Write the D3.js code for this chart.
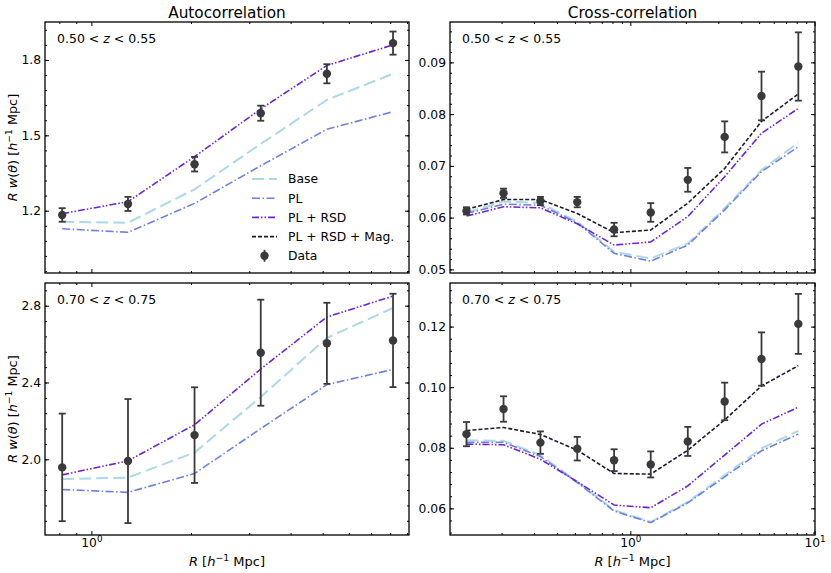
<!DOCTYPE html>
<html>
<head>
<meta charset="utf-8">
<script src="https://cdn.jsdelivr.net/npm/d3@7"></script>
<style>
  body { margin: 0; background: #fff; }
  svg text { font-family: "DejaVu Sans", sans-serif; fill: #000; }
</style>
</head>
<body>
<svg id="chart" width="831" height="573"></svg>
<script>
// separations in h^-1 Mpc
const rAuto  = [0.816, 1.29, 2.05, 3.25, 5.15, 8.16];
const rCross = [0.129, 0.205, 0.325, 0.515, 0.816, 1.29, 2.05, 3.25, 5.15, 8.16];

// autocorrelation, 0.50 < z < 0.55
const autoZ1Data = [1.183, 1.227, 1.385, 1.588, 1.745, 1.867];
const autoZ1Err  = [0.027, 0.028, 0.029, 0.030, 0.038, 0.046];
const autoZ1Base = [1.156, 1.152, 1.285, 1.466, 1.641, 1.745];
const autoZ1PL   = [1.128, 1.114, 1.229, 1.379, 1.524, 1.594];
const autoZ1RSD  = [1.188, 1.236, 1.415, 1.605, 1.778, 1.860];

// autocorrelation, 0.70 < z < 0.75
const autoZ2Data = [1.958, 1.991, 2.126, 2.555, 2.604, 2.619];
const autoZ2Err  = [0.280, 0.323, 0.249, 0.276, 0.211, 0.243];
const autoZ2Base = [1.897, 1.905, 2.035, 2.325, 2.632, 2.788];
const autoZ2PL   = [1.843, 1.828, 1.926, 2.160, 2.389, 2.468];
const autoZ2RSD  = [1.919, 1.992, 2.180, 2.470, 2.741, 2.850];

// cross-correlation, 0.50 < z < 0.55
const crossZ1Data = [0.0613, 0.0647, 0.0632, 0.0630, 0.0577, 0.0610, 0.0673, 0.0756, 0.0835, 0.0892];
const crossZ1Err  = [0.0007, 0.0009, 0.0008, 0.0010, 0.0013, 0.0018, 0.0023, 0.0030, 0.0047, 0.0066];
const crossZ1Base = [0.0610, 0.0631, 0.0628, 0.0592, 0.0534, 0.0521, 0.0550, 0.0618, 0.0692, 0.0745];
const crossZ1PL   = [0.0608, 0.0626, 0.0624, 0.0590, 0.0531, 0.0516, 0.0547, 0.0615, 0.0689, 0.0737];
const crossZ1RSD  = [0.0603, 0.0621, 0.0619, 0.0588, 0.0547, 0.0553, 0.0602, 0.0679, 0.0763, 0.0811];
const crossZ1Mag  = [0.0616, 0.0635, 0.0635, 0.0608, 0.0571, 0.0576, 0.0628, 0.0695, 0.0786, 0.0839];

// cross-correlation, 0.70 < z < 0.75
const crossZ2Data = [0.0845, 0.0928, 0.0817, 0.0797, 0.0759, 0.0745, 0.0821, 0.0953, 0.1093, 0.1209];
const crossZ2Err  = [0.0040, 0.0042, 0.0037, 0.0039, 0.0036, 0.0043, 0.0048, 0.0062, 0.0088, 0.0099];
const crossZ2Base = [0.0825, 0.0823, 0.0776, 0.0688, 0.0594, 0.0555, 0.0621, 0.0710, 0.0798, 0.0856];
const crossZ2PL   = [0.0818, 0.0818, 0.0771, 0.0685, 0.0591, 0.0553, 0.0618, 0.0704, 0.0790, 0.0845];
const crossZ2RSD  = [0.0812, 0.0810, 0.0762, 0.0688, 0.0611, 0.0602, 0.0674, 0.0776, 0.0878, 0.0934];
const crossZ2Mag  = [0.0857, 0.0867, 0.0844, 0.0792, 0.0715, 0.0713, 0.0792, 0.0892, 0.1004, 0.1071];

// tick labels
const autoZ1Ticks  = [1.2, 1.5, 1.8];
const autoZ2Ticks  = [2.0, 2.4, 2.8];
const crossZ1Ticks = [0.05, 0.06, 0.07, 0.08, 0.09];
const crossZ2Ticks = [0.06, 0.08, 0.10, 0.12];
const seriesNames = ['Base', 'PL', 'PL + RSD', 'PL + RSD + Mag.', 'Data'];

const styles = {
  base: { color: '#add8e6', dash: '12,5', width: 2 },
  pl:   { color: '#6f80e0', dash: '8,2.5,1.5,2.5', width: 1.6 },
  rsd:  { color: '#6f22d6', dash: '7,2,1.5,2,1.5,2', width: 1.6 },
  mag:  { color: '#1f1a30', dash: '4,2', width: 1.6 }
};
const dataColor = '#3a3a3a';

const svg = d3.select('#chart');

const panels = [
  { x0: 45,  x1: 409, y0: 22,  y1: 273, xdom: [0.724, 9.12], ydom: [0.952, 1.951],
    r: rAuto, data: autoZ1Data, err: autoZ1Err, yTicks: autoZ1Ticks, yStep: 0.3,
    lines: { base: autoZ1Base, pl: autoZ1PL, rsd: autoZ1RSD },
    zlab: ['0.50', '0.55'], xLabels: false, title: 'Autocorrelation', legend: true, ylab: true },
  { x0: 450, x1: 815, y0: 22,  y1: 273, xdom: [0.105, 10.05], ydom: [0.0493, 0.0978],
    r: rCross, data: crossZ1Data, err: crossZ1Err, yTicks: crossZ1Ticks, yStep: 0.01,
    lines: { base: crossZ1Base, pl: crossZ1PL, rsd: crossZ1RSD, mag: crossZ1Mag },
    zlab: ['0.50', '0.55'], xLabels: false, title: 'Cross-correlation' },
  { x0: 45,  x1: 409, y0: 283, y1: 535, xdom: [0.724, 9.12], ydom: [1.606, 2.918],
    r: rAuto, data: autoZ2Data, err: autoZ2Err, yTicks: autoZ2Ticks, yStep: 0.4,
    lines: { base: autoZ2Base, pl: autoZ2PL, rsd: autoZ2RSD },
    zlab: ['0.70', '0.75'], xLabels: true, ylab: true },
  { x0: 450, x1: 815, y0: 283, y1: 535, xdom: [0.105, 10.05], ydom: [0.0512, 0.1344],
    r: rCross, data: crossZ2Data, err: crossZ2Err, yTicks: crossZ2Ticks, yStep: 0.02,
    lines: { base: crossZ2Base, pl: crossZ2PL, rsd: crossZ2RSD, mag: crossZ2Mag },
    zlab: ['0.70', '0.75'], xLabels: true }
];

function unitLabel(sel, size, prefix) {
  // "... [h^-1 Mpc]" label, superscript shifted by fixed pixels
  const up = size * 0.42;
  prefix(sel);
  sel.append('tspan').text(' [');
  sel.append('tspan').attr('font-style', 'italic').text('h');
  sel.append('tspan').attr('dy', -up).attr('font-size', size * 0.72).text('\u22121');
  sel.append('tspan').attr('dy', up).text(' Mpc]');
}

function styleAxis(g) {
  g.select('.domain').remove();
  g.selectAll('line').attr('stroke', '#000').attr('stroke-width', 1);
  g.selectAll('text').attr('font-size', 12.3).attr('fill', '#000').attr('font-family', '"DejaVu Sans", sans-serif');
}

panels.forEach(p => {
  const x = d3.scaleLog().domain(p.xdom).range([p.x0, p.x1]);
  const y = d3.scaleLinear().domain(p.ydom).range([p.y1, p.y0]);
  const g = svg.append('g');

  // ticks
  const decades = [0.1, 1, 10].filter(v => v >= p.xdom[0] && v <= p.xdom[1]);
  const xMinor = [];
  [0.1, 1].forEach(d => { for (let k = 2; k <= 9; k++) { const v = d * k; if (v >= p.xdom[0] && v <= p.xdom[1]) xMinor.push(v); } });
  const yMinor = [];
  const mstep = p.yStep / 5;
  for (let v = Math.ceil(p.ydom[0] / mstep - 1e-6) * mstep; v <= p.ydom[1]; v += mstep) yMinor.push(v);

  const addX = (axisFn, ty, vals, size, labels) => {
    const a = g.append('g').attr('transform', `translate(0,${ty})`)
      .call(axisFn(x).tickValues(vals).tickSizeInner(-size).tickSizeOuter(0).tickPadding(3.5).tickFormat(() => ''));
    styleAxis(a);
    if (labels) {
      a.selectAll('text').each(function (d) {
        const t = d3.select(this).text('10');
        t.append('tspan').attr('dy', -5).attr('font-size', 8.8).text(Math.round(Math.log10(d)));
      });
    }
  };
  const addY = (axisFn, tx, vals, size, labels) => {
    const a = g.append('g').attr('transform', `translate(${tx},0)`)
      .call(axisFn(y).tickValues(vals).tickSizeInner(-size).tickSizeOuter(0).tickPadding(4)
        .tickFormat(labels ? d3.format(p.yStep < 0.1 ? '.2f' : '.1f') : () => ''));
    styleAxis(a);
  };

  addX(d3.axisBottom, p.y1, decades, 4, p.xLabels);
  addX(d3.axisBottom, p.y1, xMinor, 2, false);
  addX(d3.axisTop, p.y0, decades, 4, false);
  addX(d3.axisTop, p.y0, xMinor, 2, false);
  addY(d3.axisLeft, p.x0, p.yTicks, 4, true);
  addY(d3.axisLeft, p.x0, yMinor, 2, false);
  addY(d3.axisRight, p.x1, p.yTicks, 4, false);
  addY(d3.axisRight, p.x1, yMinor, 2, false);

  // model lines
  const line = d3.line().x(d => x(d[0])).y(d => y(d[1]));
  ['base', 'pl', 'rsd', 'mag'].forEach(k => {
    if (!p.lines[k]) return;
    const s = styles[k];
    g.append('path')
      .datum(p.r.map((r, i) => [r, p.lines[k][i]]))
      .attr('d', line).attr('fill', 'none')
      .attr('stroke', s.color).attr('stroke-width', s.width).attr('stroke-dasharray', s.dash);
  });

  // data with error bars
  const pts = g.append('g').selectAll('g').data(p.data.map((v, i) => ({ r: p.r[i], v, e: p.err[i] })))
    .join('g').attr('stroke', dataColor).attr('stroke-width', 1.8);
  pts.append('line').attr('x1', d => x(d.r)).attr('x2', d => x(d.r))
    .attr('y1', d => y(d.v - d.e)).attr('y2', d => y(d.v + d.e));
  pts.append('line').attr('x1', d => x(d.r) - 3.5).attr('x2', d => x(d.r) + 3.5)
    .attr('y1', d => y(d.v - d.e)).attr('y2', d => y(d.v - d.e));
  pts.append('line').attr('x1', d => x(d.r) - 3.5).attr('x2', d => x(d.r) + 3.5)
    .attr('y1', d => y(d.v + d.e)).attr('y2', d => y(d.v + d.e));
  pts.append('circle').attr('cx', d => x(d.r)).attr('cy', d => y(d.v)).attr('r', 4.2)
    .attr('fill', dataColor).attr('stroke', 'none');

  // frame
  g.append('rect').attr('x', p.x0).attr('y', p.y0).attr('width', p.x1 - p.x0).attr('height', p.y1 - p.y0)
    .attr('fill', 'none').attr('stroke', '#000').attr('stroke-width', 1.3);

  // redshift label
  const zt = g.append('text').attr('x', p.x0 + 12).attr('y', p.y0 + 21).attr('font-size', 12.5);
  zt.append('tspan').text(p.zlab[0] + ' < ');
  zt.append('tspan').attr('font-style', 'italic').text('z');
  zt.append('tspan').text(' < ' + p.zlab[1]);

  if (p.title) {
    g.append('text').attr('x', (p.x0 + p.x1) / 2).attr('y', 17.5).attr('text-anchor', 'middle')
      .attr('font-size', 15.3).text(p.title);
  }
  if (p.xLabels) {
    const xl = g.append('text').attr('x', (p.x0 + p.x1) / 2).attr('y', 566).attr('text-anchor', 'middle').attr('font-size', 13);
    unitLabel(xl, 13, s => s.append('tspan').attr('font-style', 'italic').text('R'));
  }
  if (p.ylab) {
    const cy = (p.y0 + p.y1) / 2;
    const yl = g.append('text').attr('transform', `translate(17,${cy}) rotate(-90)`).attr('text-anchor', 'middle').attr('font-size', 12.8);
    unitLabel(yl, 12.8, s => {
      s.append('tspan').attr('font-style', 'italic').text('R w');
      s.append('tspan').text('(');
      s.append('tspan').attr('font-style', 'italic').text('\u03b8');
      s.append('tspan').text(')');
    });
  }

  if (p.legend) {
    const keys = ['base', 'pl', 'rsd', 'mag'];
    const lg = g.append('g').attr('font-size', 12.3);
    seriesNames.forEach((name, i) => {
      const cy = 179 + i * 19.2;
      if (i < 4) {
        const s = styles[keys[i]];
        lg.append('line').attr('x1', 252).attr('x2', 277).attr('y1', cy).attr('y2', cy)
          .attr('stroke', s.color).attr('stroke-width', s.width).attr('stroke-dasharray', s.dash);
      } else {
        lg.append('line').attr('x1', 264.5).attr('x2', 264.5).attr('y1', cy - 6).attr('y2', cy + 6)
          .attr('stroke', dataColor).attr('stroke-width', 1.8);
        lg.append('circle').attr('cx', 264.5).attr('cy', cy).attr('r', 4.2).attr('fill', dataColor);
      }
      lg.append('text').attr('x', 288).attr('y', cy).attr('dy', '0.36em').text(name);
    });
  }
});
</script>
</body>
</html>
